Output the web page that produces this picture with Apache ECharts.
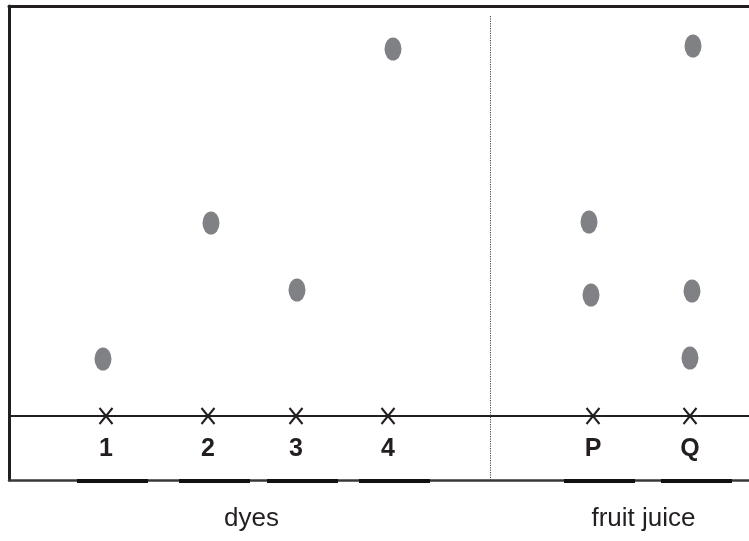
<!DOCTYPE html>
<html>
<head>
<meta charset="utf-8">
<script src="https://cdn.jsdelivr.net/npm/echarts@6/dist/echarts.min.js"></script>
<style>
html,body{margin:0;padding:0;background:#fff;}
#c{width:749px;height:541px;}
</style>
</head>
<body>
<div id="c"></div>
<script>
// ---- data ----
const lanes = ['1', '2', '3', '4', 'P', 'Q'];
const laneGroup = ['dyes', 'dyes', 'dyes', 'dyes', 'fruit juice', 'fruit juice'];
const lanePos = [97, 199, 287, 379, 584, 681];          // position of each start cross along the paper
const groups = ['dyes', 'fruit juice'];
const dyeSpots = [[94, 57], [202, 193], [288, 126], [384, 367]];            // [position, distance moved]
const juiceSpots = [[580, 194], [582, 121], [684, 370], [683, 125], [681, 58]];
const dividerPos = 481;
const paperTop = 410, paperBottom = -64, paperWidth = 740, dividerTop = 400;

// ---- chart ----
const ink = '#231f20';
const chart = echarts.init(document.getElementById('c'), null, {renderer: 'canvas'});

const axisCommon = {
  type: 'value', axisTick: {show: false}, axisLabel: {show: false}, splitLine: {show: false}
};

const groupData = groups.map((g, gi) => {
  const xs = lanePos.filter((x, i) => laneGroup[i] === g);
  return [xs.reduce((a, b) => a + b, 0) / xs.length, paperBottom, gi];
});

chart.setOption({
  animation: false,
  grid: {left: 9, right: 0, top: 6, bottom: 61, containLabel: false},
  xAxis: [
    Object.assign({}, axisCommon, {min: 0, max: paperWidth, position: 'bottom',
      axisLine: {show: true, onZero: false, lineStyle: {color: '#3a3738', width: 2.5}}}),
    Object.assign({}, axisCommon, {min: 0, max: paperWidth, position: 'top',
      axisLine: {show: true, onZero: false, lineStyle: {color: ink, width: 3}}})
  ],
  yAxis: Object.assign({}, axisCommon, {min: paperBottom, max: paperTop,
    axisLine: {show: true, onZero: false, lineStyle: {color: ink, width: 3}}}),
  series: [
    {
      type: 'scatter', name: 'dyes', data: dyeSpots, symbol: 'circle', symbolSize: [17, 23],
      itemStyle: {color: '#808184', opacity: 1}, silent: true,
      markLine: {
        silent: true, symbol: 'none', label: {show: false}, animation: false,
        data: [
          {yAxis: 0, lineStyle: {color: ink, width: 2, type: 'solid'}},
          [{coord: [dividerPos, dividerTop], lineStyle: {color: '#444', width: 1, type: [1.2, 1.2]}},
           {coord: [dividerPos, paperBottom]}]
        ]
      }
    },
    {
      type: 'scatter', name: 'fruit juice', data: juiceSpots, symbol: 'circle', symbolSize: [17, 23],
      itemStyle: {color: '#808184', opacity: 1}, silent: true
    },
    {
      type: 'custom', name: 'lanes', silent: true,
      data: lanePos.map((x, i) => [x, 0, i]),
      encode: {x: 0, y: 1},
      renderItem: function (params, api) {
        const i = api.value(2);
        const p = api.coord([api.value(0), 0]);
        const b = api.coord([api.value(0), paperBottom]);
        const cs = {stroke: ink, lineWidth: 2, fill: null};
        return {
          type: 'group',
          children: [
            {type: 'line', shape: {x1: p[0] - 6.5, y1: p[1] - 8, x2: p[0] + 6.5, y2: p[1] + 8}, style: cs},
            {type: 'line', shape: {x1: p[0] + 6.5, y1: p[1] - 8, x2: p[0] - 6.5, y2: p[1] + 8}, style: cs},
            {type: 'text', x: p[0], y: p[1] + 33,
              style: {text: lanes[i], fill: ink, font: 'bold 25px "Liberation Sans", Arial, sans-serif',
                align: 'center', verticalAlign: 'middle'}},
            {type: 'line', shape: {x1: p[0] - 29, y1: b[1] + 1, x2: p[0] + 42, y2: b[1] + 1},
              style: {stroke: '#111', lineWidth: 4}}
          ]
        };
      }
    },
    {
      type: 'custom', name: 'groups', silent: true,
      data: groupData,
      encode: {x: 0, y: 1},
      renderItem: function (params, api) {
        const gi = api.value(2);
        const p = api.coord([api.value(0), api.value(1)]);
        return {
          type: 'text', x: p[0] + 2, y: p[1] + 39,
          style: {text: groups[gi], fill: ink, font: '26px "Liberation Sans", Arial, sans-serif',
            align: 'center', verticalAlign: 'middle'}
        };
      }
    }
  ]
});
</script>
</body>
</html>
